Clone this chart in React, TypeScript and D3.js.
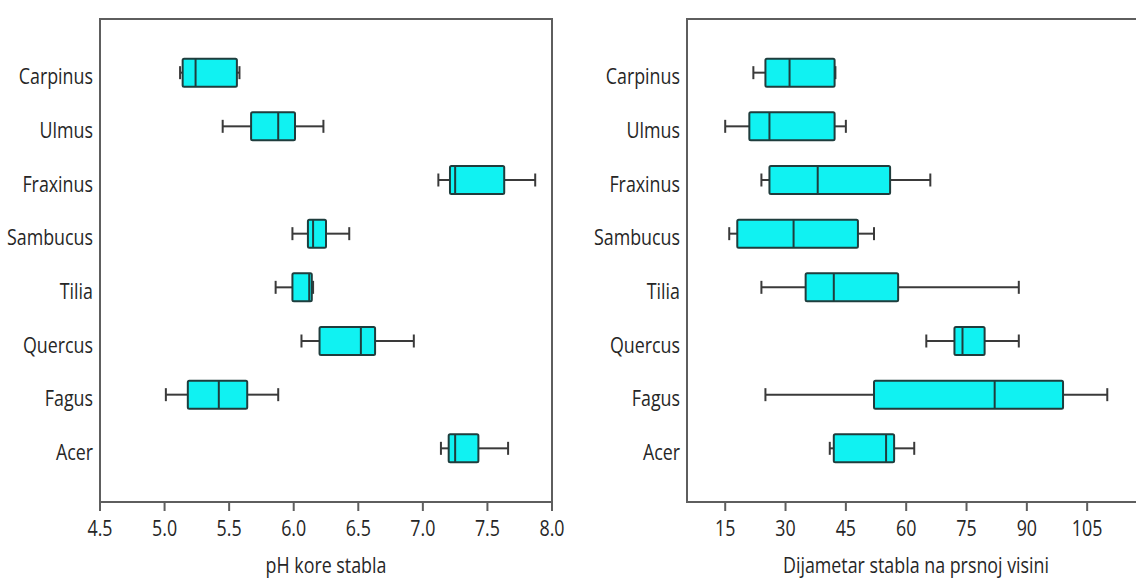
import React from "react";
import * as d3 from "d3";

const categories = ["Carpinus", "Ulmus", "Fraxinus", "Sambucus", "Tilia", "Quercus", "Fagus", "Acer"];

// pH kore stabla
const phMin = [5.12, 5.45, 7.12, 5.99, 5.86, 6.06, 5.01, 7.14];
const phQ1 = [5.14, 5.67, 7.21, 6.11, 5.99, 6.2, 5.18, 7.2];
const phMedian = [5.24, 5.88, 7.25, 6.15, 6.12, 6.52, 5.42, 7.25];
const phQ3 = [5.56, 6.01, 7.63, 6.25, 6.14, 6.63, 5.64, 7.43];
const phMax = [5.58, 6.23, 7.87, 6.43, 6.15, 6.93, 5.88, 7.66];
const phTicks = [4.5, 5.0, 5.5, 6.0, 6.5, 7.0, 7.5, 8.0];

// Dijametar stabla na prsnoj visini
const dbhMin = [22, 15, 24, 16, 24, 65, 25, 41];
const dbhQ1 = [25, 21, 26, 18, 35, 72, 52, 42];
const dbhMedian = [31, 26, 38, 32, 42, 74, 82, 55];
const dbhQ3 = [42.2, 42.2, 56, 48, 58, 79.5, 99, 57];
const dbhMax = [42.4, 45, 66, 52, 88, 88, 110, 62];
const dbhTicks = [15, 30, 45, 60, 75, 90, 105];

const W = 1136;
const H = 578;
const TOP = 19;
const BOTTOM = 502;
const FONT = "'Open Sans', 'Noto Sans', sans-serif";
const SX = 0.85;
const TEXT = "#262626";
const FRAME = "#5e5e5e";

type PanelProps = {
  x0: number;
  x1: number;
  domain: [number, number];
  ticks: number[];
  fmt: (v: number) => string;
  mins: number[];
  q1: number[];
  med: number[];
  q3: number[];
  maxs: number[];
  title: string;
  titleX: number;
  closed: boolean;
};

function Label({ x, y, anchor, size, children }: { x: number; y: number; anchor: string; size: number; children: React.ReactNode }) {
  return (
    <text
      transform={`translate(${x},${y}) scale(${SX},1)`}
      textAnchor={anchor as any}
      fontFamily={FONT}
      fontSize={size}
      fill={TEXT}
    >
      {children}
    </text>
  );
}

function Panel(p: PanelProps) {
  const x = d3.scaleLinear().domain(p.domain).range([p.x0, p.x1]);
  const y = d3.scalePoint<string>().domain(categories).range([TOP, BOTTOM]).padding(1);
  const boxH = 28;
  const capH = 13;
  const frameEnd = Math.min(p.x1, W + 10);
  return (
    <g>
      {/* frame */}
      <path
        d={
          p.closed
            ? `M${p.x0},${TOP}H${p.x1}V${BOTTOM}H${p.x0}Z`
            : `M${frameEnd},${TOP}H${p.x0}V${BOTTOM}H${frameEnd}`
        }
        fill="none"
        stroke={FRAME}
        strokeWidth={2}
      />
      {/* ticks */}
      {p.ticks.map((t) => (
        <g key={t}>
          <line x1={x(t)} x2={x(t)} y1={BOTTOM} y2={BOTTOM + 9} stroke={FRAME} strokeWidth={2} />
          <Label x={x(t)} y={536} anchor="middle" size={21}>
            {p.fmt(t)}
          </Label>
        </g>
      ))}
      {/* category labels */}
      {categories.map((c) => (
        <Label key={c} x={p.x0 - 7} y={(y(c) as number) + 11.5} anchor="end" size={21}>
          {c}
        </Label>
      ))}
      {/* boxes */}
      {categories.map((c, i) => {
        const cy = y(c) as number;
        return (
          <g key={c}>
            <line x1={x(p.mins[i])} x2={x(p.q1[i])} y1={cy} y2={cy} stroke="#3a3a3a" strokeWidth={2} />
            <line x1={x(p.q3[i])} x2={x(p.maxs[i])} y1={cy} y2={cy} stroke="#3a3a3a" strokeWidth={2} />
            <line x1={x(p.mins[i])} x2={x(p.mins[i])} y1={cy - capH / 2} y2={cy + capH / 2} stroke="#3a3a3a" strokeWidth={2} />
            <line x1={x(p.maxs[i])} x2={x(p.maxs[i])} y1={cy - capH / 2} y2={cy + capH / 2} stroke="#3a3a3a" strokeWidth={2} />
            <rect
              x={x(p.q1[i])}
              y={cy - boxH / 2}
              width={x(p.q3[i]) - x(p.q1[i])}
              height={boxH}
              fill="#10F2F2"
              stroke="#1f3d3d"
              strokeWidth={2}
              rx={1.5}
            />
            <line x1={x(p.med[i])} x2={x(p.med[i])} y1={cy - boxH / 2} y2={cy + boxH / 2} stroke="#1f3d3d" strokeWidth={2} />
          </g>
        );
      })}
      <Label x={p.titleX} y={573} anchor="middle" size={21}>
        {p.title}
      </Label>
    </g>
  );
}

export default function App() {
  return (
    <svg
      width={W}
      height={H}
      viewBox={`0 0 ${W} ${H}`}
      style={{ position: "absolute", left: 0, top: 0, background: "#fff" }}
    >
      <rect x={0} y={0} width={W} height={H} fill="#fff" />
      <Panel
        x0={100}
        x1={552}
        domain={[4.5, 8.0]}
        ticks={phTicks}
        fmt={d3.format(".1f")}
        mins={phMin}
        q1={phQ1}
        med={phMedian}
        q3={phQ3}
        maxs={phMax}
        title="pH kore stabla"
        titleX={326}
        closed={true}
      />
      <Panel
        x0={687}
        x1={1147.5}
        domain={[5.5, 120]}
        ticks={dbhTicks}
        fmt={d3.format("d")}
        mins={dbhMin}
        q1={dbhQ1}
        med={dbhMedian}
        q3={dbhQ3}
        maxs={dbhMax}
        title="Dijametar stabla na prsnoj visini"
        titleX={916}
        closed={false}
      />
    </svg>
  );
}
